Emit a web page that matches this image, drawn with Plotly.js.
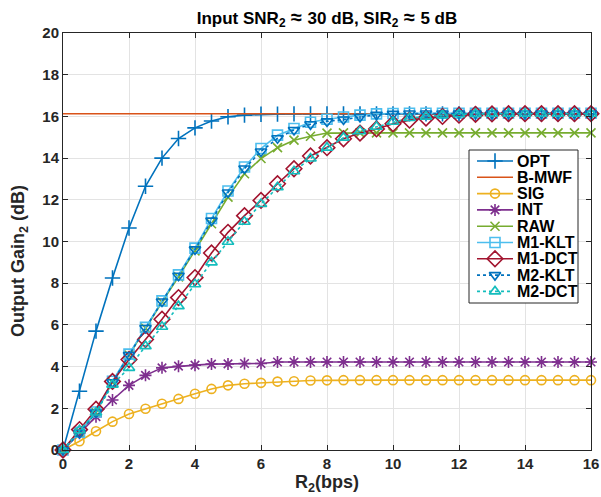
<!DOCTYPE html>
<html>
<head>
<meta charset="utf-8">
<script src="https://cdn.plot.ly/plotly-3.0.1.min.js"></script>
<style>html,body{margin:0;padding:0;background:#fff;}#chart{width:601px;height:497px;}</style>
</head>
<body>
<div id="chart"></div>
<script>
const rate = [0,0.5,1,1.5,2,2.5,3,3.5,4,4.5,5,5.5,6,6.5,7,7.5,8,8.5,9,9.5,10,10.5,11,11.5,12,12.5,13,13.5,14,14.5,15,15.5,16];

const opt   = [0,2.82,5.7,8.25,10.65,12.65,14.0,14.94,15.45,15.78,15.98,16.06,16.1,16.11,16.12,16.12,16.12,16.12,16.12,16.12,16.12,16.12,16.12,16.12,16.12,16.12,16.12,16.12,16.12,16.12,16.12,16.12,16.12];
const bmwf  = [16.13,16.13,16.13,16.13,16.13,16.13,16.13,16.13,16.13,16.13,16.13,16.13,16.13,16.13,16.13,16.13,16.13,16.13,16.13,16.13,16.13,16.13,16.13,16.13,16.13,16.13,16.13,16.13,16.13,16.13,16.13,16.13,16.13];
const sig   = [0,0.42,0.9,1.36,1.73,1.98,2.22,2.45,2.7,2.93,3.1,3.18,3.22,3.28,3.3,3.33,3.34,3.35,3.35,3.35,3.35,3.35,3.35,3.35,3.35,3.35,3.35,3.35,3.35,3.35,3.35,3.35,3.35];
const intf  = [0,0.8,1.6,2.4,3.1,3.58,3.94,4.02,4.07,4.12,4.13,4.15,4.15,4.22,4.22,4.22,4.22,4.22,4.22,4.22,4.22,4.22,4.22,4.22,4.22,4.22,4.22,4.22,4.22,4.22,4.22,4.22,4.22];
const raw   = [0,0.85,1.8,3.25,4.55,5.85,7.1,8.3,9.55,10.85,12.13,13.25,13.98,14.5,14.86,15.05,15.2,15.21,15.21,15.21,15.21,15.21,15.21,15.21,15.21,15.21,15.21,15.21,15.21,15.21,15.21,15.21,15.21];
const m1klt = [0,0.85,1.82,3.3,4.6,5.88,7.15,8.4,9.68,11.1,12.42,13.57,14.46,15.1,15.42,15.72,15.86,15.97,16.06,16.12,16.14,16.15,16.15,16.15,16.15,16.15,16.15,16.15,16.15,16.15,16.15,16.15,16.15];
const m1dct = [0,0.98,1.96,3.29,4.34,5.3,6.27,7.31,8.27,9.45,10.44,11.24,11.97,12.77,13.49,14.1,14.5,14.93,15.2,15.4,15.65,15.82,15.92,16.0,16.06,16.1,16.12,16.13,16.13,16.13,16.13,16.13,16.13];
const m2klt = [0,0.82,1.8,3.25,4.55,5.85,7.12,8.36,9.62,11.0,12.35,13.5,14.32,14.95,15.35,15.62,15.76,15.85,15.98,16.08,16.12,16.14,16.14,16.14,16.14,16.14,16.14,16.14,16.14,16.14,16.14,16.14,16.14];
const m2dct = [0,0.95,1.8,3.13,3.94,4.98,5.91,6.9,7.95,9.0,9.99,10.95,11.8,12.6,13.37,13.98,14.5,14.98,15.29,15.5,15.74,15.92,15.99,16.06,16.1,16.12,16.13,16.13,16.13,16.13,16.13,16.13,16.13];

const seriesNames = ['OPT','B-MWF','SIG','INT','RAW','M1-KLT','M1-DCT','M2-KLT','M2-DCT'];
const seriesData  = [opt, bmwf, sig, intf, raw, m1klt, m1dct, m2klt, m2dct];
const styles = [
  {color:'#0072BD', symbol:'cross-thin-open', size:11, dash:'solid', mk:true},
  {color:'#D95319', symbol:null, size:0, dash:'solid', mk:false},
  {color:'#EDB120', symbol:'circle-open', size:9, dash:'solid', mk:true},
  {color:'#7E2F8E', symbol:'asterisk-open', size:10, dash:'solid', mk:true},
  {color:'#77AC30', symbol:'x-thin-open', size:9, dash:'solid', mk:true},
  {color:'#4DBEEE', symbol:'square-open', size:10, dash:'solid', mk:true},
  {color:'#A2142F', symbol:'diamond-open', size:12, dash:'solid', mk:true},
  {color:'#0072BD', symbol:'triangle-down-open', size:10, dash:'dot', mk:true},
  {color:'#14BDBD', symbol:'triangle-up-open', size:10, dash:'dot', mk:true}
];

const FONT = 'Liberation Sans, Arial, Helvetica, sans-serif';
const W = 601, H = 497, ML = 63, MR = 10, MT = 33, MB = 47;
const PW = W - ML - MR, PH = H - MT - MB;
const PX = v => (v - ML) / PW;
const PY = v => (H - MB - v) / PH;

const traces = [];
seriesNames.forEach((name, i) => {
  const s = styles[i];
  const t = {x: rate, y: seriesData[i], name: name, type: 'scatter', cliponaxis: false,
    mode: s.mk ? 'lines+markers' : 'lines', showlegend: false, hoverinfo: 'skip',
    line: {color: s.color, width: 1.6, dash: s.dash}};
  if (s.mk) t.marker = {symbol: s.symbol, size: s.size, color: s.color, line: {color: s.color, width: 1.6}};
  traces.push(t);
});

// legend (MATLAB style box) drawn on an overlay axis in plot fractions
const legBox = {x0: 469, x1: 578, y0: 150, y1: 303, row0: 161, rowStep: 16.3, lx0: 477, lx1: 513, tx: 516};
traces.push({x: [PX(legBox.x0), PX(legBox.x1), PX(legBox.x1), PX(legBox.x0), PX(legBox.x0)],
  y: [PY(legBox.y0), PY(legBox.y0), PY(legBox.y1), PY(legBox.y1), PY(legBox.y0)],
  xaxis: 'x2', yaxis: 'y2', mode: 'lines', fill: 'toself', fillcolor: '#ffffff',
  line: {color: '#262626', width: 1}, showlegend: false, hoverinfo: 'skip', cliponaxis: false});
const annotations = [];
seriesNames.forEach((name, i) => {
  const s = styles[i];
  const yr = PY(legBox.row0 + legBox.rowStep * i);
  const t = {x: [PX(legBox.lx0), PX((legBox.lx0 + legBox.lx1) / 2), PX(legBox.lx1)], y: [yr, yr, yr],
    xaxis: 'x2', yaxis: 'y2', type: 'scatter', cliponaxis: false, showlegend: false, hoverinfo: 'skip',
    mode: s.mk ? 'lines+markers' : 'lines', line: {color: s.color, width: 1.6, dash: s.dash}};
  if (s.mk) t.marker = {symbol: s.symbol, size: s.size, color: s.color, opacity: [0, 1, 0], line: {color: s.color, width: 1.6}};
  traces.push(t);
  annotations.push({xref: 'paper', yref: 'paper', x: PX(legBox.tx), y: yr, xanchor: 'left', yanchor: 'middle',
    text: name, showarrow: false, borderpad: 0, font: {family: FONT, size: 16, color: '#000', weight: 'bold'}});
});
annotations.push({xref: 'paper', yref: 'paper', x: PX(19), y: PY(261), xanchor: 'center', yanchor: 'middle',
  textangle: -90, showarrow: false, text: 'Output Gain<sub>2</sub> (dB)',
  font: {family: FONT, size: 18, color: '#262626', weight: 'bold'}});

const axisCommon = {
  showline: true, linecolor: '#262626', linewidth: 1, mirror: 'ticks',
  ticks: 'inside', ticklen: 5, tickcolor: '#262626',
  showgrid: true, gridcolor: '#e3e3e3', gridwidth: 1, zeroline: false,
  tickfont: {family: FONT, size: 15, color: '#262626', weight: 'bold'}
};

const approx = '<span style="font-size:20px"> ≈ </span>';
const layout = {
  width: W, height: H,
  margin: {l: ML, r: MR, t: MT, b: MB},
  paper_bgcolor: '#fff', plot_bgcolor: '#fff',
  title: {text: 'Input SNR<sub>2</sub>' + approx + '30 dB, SIR<sub>2</sub>' + approx + '5 dB',
          xref: 'paper', x: 0.5, xanchor: 'center', yref: 'container', y: 0.976, yanchor: 'top',
          font: {family: FONT, size: 17, color: '#000', weight: 'bold'}},
  xaxis: Object.assign({}, axisCommon, {range: [0, 16], dtick: 2, tick0: 0,
    title: {text: 'R<sub>2</sub>(bps)', standoff: 4, font: {family: FONT, size: 18, color: '#262626', weight: 'bold'}}}),
  yaxis: Object.assign({}, axisCommon, {range: [0, 20], dtick: 2, tick0: 0}),
  xaxis2: {overlaying: 'x', range: [0, 1], visible: false, fixedrange: true},
  yaxis2: {overlaying: 'y', range: [0, 1], visible: false, fixedrange: true},
  showlegend: false,
  annotations: annotations
};

Plotly.newPlot('chart', traces, layout, {displayModeBar: false, staticPlot: true});
</script>
</body>
</html>
